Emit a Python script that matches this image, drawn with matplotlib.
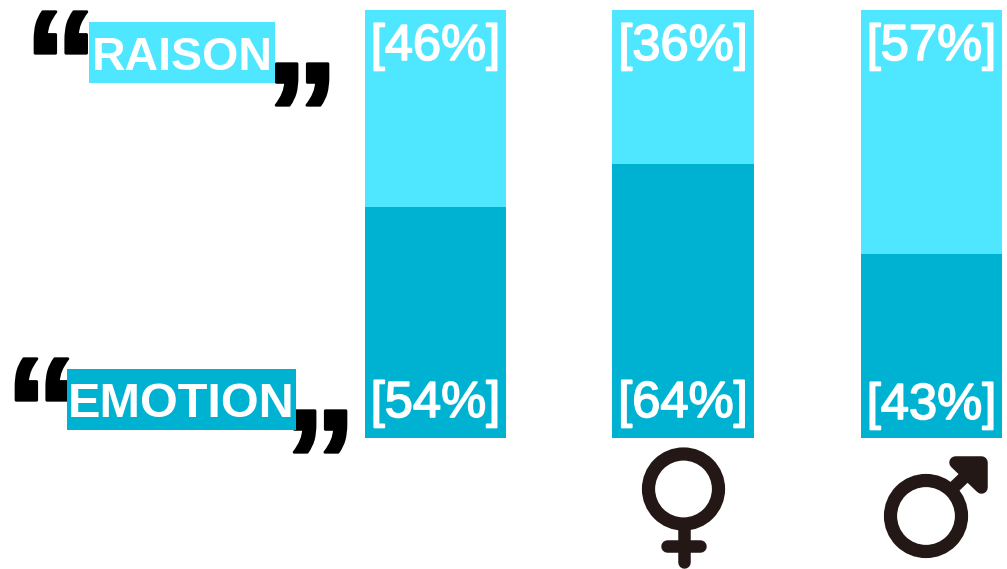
import matplotlib
matplotlib.use('Agg')
import matplotlib.pyplot as plt
from matplotlib.patches import Circle, Rectangle
import matplotlib.patheffects as pe

W, H = 1007, 569

# values
raison = [46, 36, 57]
emotion = [54, 64, 43]
bar_centers = [435.5, 683, 931.5]
LIGHT = '#4fe6ff'
DARK = '#00b2d2'
ICON = '#231815'
FONT = 'Liberation Sans'

fig = plt.figure(figsize=(W / 100, H / 100), dpi=100)

# bars live in their own axes, y is the share in percent
ax = fig.add_axes([0, (H - 438) / H, 1, 428 / H])
ax.set_xlim(0, W)
ax.set_ylim(0, 100)
ax.axis('off')
ax.bar(bar_centers, emotion, width=141.5, color=DARK)
ax.bar(bar_centers, raison, bottom=emotion, width=141.5, color=LIGHT)

# overlay in pixel coordinates for labels and icons
ov = fig.add_axes([0, 0, 1, 1])
ov.set_xlim(0, W)
ov.set_ylim(H, 0)
ov.axis('off')

stroke = [pe.withStroke(linewidth=1.2, foreground='white')]
for x, r, e in zip(bar_centers, raison, emotion):
    ov.text(x, 60, f'[{r}%]', color='white', fontsize=36.5, family=FONT,
            ha='center', va='baseline', path_effects=stroke)
    y = 419 if e == 43 else 417
    ov.text(x, y, f'[{e}%]', color='white', fontsize=36.5, family=FONT,
            ha='center', va='baseline', path_effects=stroke)

quote_stroke = [pe.withStroke(linewidth=2, foreground='black')]


def quoted_label(word, x0, x1, y0, y1, color, size, gap):
    ov.add_patch(Rectangle((x0, y0), x1 - x0, y1 - y0, color=color, lw=0, zorder=2))
    ov.text((x0 + x1) / 2, y1 - 13, word, color='white', fontsize=size, family=FONT,
            weight='bold', ha='center', va='baseline', zorder=4)
    ov.text(x0 - gap - 1, y0 + 91, '\u201c', color='black', fontsize=106, family=FONT,
            weight='bold', ha='center', va='baseline', zorder=1, path_effects=quote_stroke)
    ov.text(x1 + gap, y0 + 143, '\u201d', color='black', fontsize=106, family=FONT,
            weight='bold', ha='center', va='baseline', zorder=1, path_effects=quote_stroke)


quoted_label('RAISON', 89, 275, 22, 83, LIGHT, 33.5, 27)
quoted_label('EMOTION', 67, 296, 369, 430, DARK, 35, 24)

# female sign
ov.add_patch(Circle((683.5, 489), 35, fill=False, ec=ICON, lw=9.5))
ov.plot([683.5, 683.5], [526, 562], color=ICON, lw=9, solid_capstyle='round')
ov.plot([667, 700], [546, 546], color=ICON, lw=9, solid_capstyle='round')

# male sign
ov.add_patch(Circle((926, 516), 35.5, fill=False, ec=ICON, lw=9.5))
ov.plot([950, 975], [491, 467], color=ICON, lw=9, solid_capstyle='butt')
ov.fill([955, 981, 981], [462, 462, 487], color=ICON, ec=ICON, lw=9, joinstyle='round')

fig.savefig('out.png', dpi=100)
